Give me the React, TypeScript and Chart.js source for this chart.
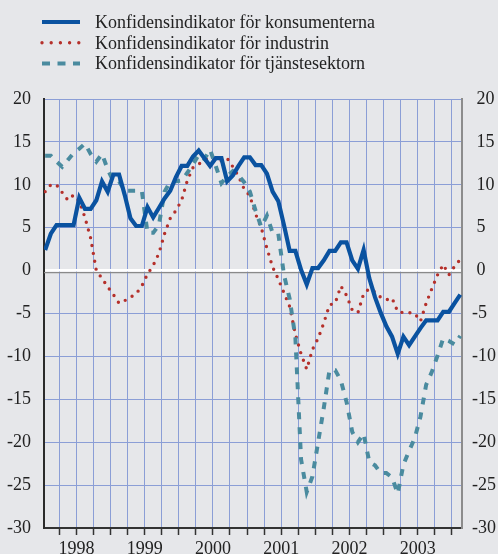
import React, { useEffect, useRef } from 'react';
import { Chart, registerables } from 'chart.js';

Chart.register(...registerables);

// ---- Data (monthly, Jan 1998 – Feb 2004) ----
const startYear = 1998;
const yearLabels = ['1998', '1999', '2000', '2001', '2002', '2003'];
const seriesNames = [
  'Konfidensindikator för konsumenterna',
  'Konfidensindikator för industrin',
  'Konfidensindikator för tjänstesektorn',
];

const konsumenter = [
  2.4, 4.3, 5.3, 5.3, 5.3, 5.3, 8.5, 7.2, 7.2, 8.2, 10.4, 9.2,
  11.2, 11.2, 8.8, 6.1, 5.2, 5.2, 7.4, 6.2, 7.3, 8.4, 9.3, 10.9,
  12.2, 12.2, 13.3, 14.0, 13.1, 12.2, 13.1, 13.1, 10.4, 11.1, 12.2, 13.2,
  13.2, 12.3, 12.3, 11.3, 9.2, 8.1, 5.3, 2.3, 2.3, 0.1, -1.6, 0.3,
  0.3, 1.2, 2.3, 2.3, 3.3, 3.3, 1.2, 0.2, 2.4, -0.9, -3.1, -4.9,
  -6.5, -7.7, -9.7, -7.7, -8.7, -7.7, -6.7, -5.8, -5.8, -5.8, -4.8, -4.8,
  -3.8, -2.8,
];

const industri = [
  9.2, 10.0, 10.0, 9.1, 8.2, 8.8, 8.1, 6.2, 3.8, 0.0, -0.9, -1.9,
  -2.8, -3.8, -3.5, -3.1, -2.7, -1.8, -0.4, 0.6, 2.0, 4.3, 6.1, 7.0,
  8.2, 10.5, 12.0, 12.4, 12.9, 13.1, 12.7, 12.8, 13.1, 12.1, 11.0, 9.5,
  8.7, 6.6, 5.0, 2.6, 0.4, -1.0, -2.6, -4.2, -7.4, -9.7, -11.5, -9.2,
  -7.9, -6.1, -4.0, -3.8, -1.8, -2.9, -4.6, -4.9, -2.7, -2.1, -2.5, -3.1,
  -3.4, -3.2, -4.8, -4.9, -4.9, -5.0, -5.9, -3.8, -2.1, -0.5, 0.7, -0.5,
  0.5, 1.3,
];

const tjanster = [
  13.4, 13.4, 12.7, 12.1, 12.9, 13.7, 14.2, 14.8, 13.6, 12.7, 13.6, 11.8,
  10.4, 10.4, 9.3, 9.3, 9.3, 9.3, 4.4, 4.4, 5.3, 9.2, 10.4, 10.4,
  10.5, 11.4, 12.4, 13.5, 13.0, 14.1, 12.2, 10.2, 11.0, 11.6, 11.1, 10.3,
  9.2, 7.0, 5.1, 6.4, 4.4, 4.3, -0.5, -3.3, -7.8, -22.0, -25.8, -24.0,
  -20.0, -16.0, -11.6, -11.6, -12.8, -15.3, -18.8, -20.0, -19.0, -22.3, -22.7, -23.6,
  -23.6, -24.1, -26.0, -22.6, -21.0, -19.5, -17.0, -13.3, -11.8, -9.9, -7.9, -8.2,
  -8.6, -7.6,
];

const yMin = -30;
const yMax = 20;
const yStep = 5;

// month positions (mid-month), quarter grid positions
const toPoints = (vals: number[]) => vals.map((v, i) => ({ x: i + 0.5, y: v }));
const quarterTicks: number[] = [];
for (let q = 3; q <= 72; q += 3) quarterTicks.push(q);

const FONT = '"Liberation Serif", "Times New Roman", Times, serif';
const BG = '#e6e7ea';
const GRID = '#8b9ed6';
const TEXT = '#222222';

const legendPlugin = {
  id: 'customLegend',
  afterDraw(chart: any) {
    const ctx = chart.ctx;
    ctx.save();
    chart.data.datasets.forEach((ds: any, i: number) => {
      const y = 22 + i * 20.8;
      ctx.beginPath();
      ctx.strokeStyle = ds.borderColor;
      ctx.lineWidth = ds.borderWidth;
      ctx.lineCap = ds.borderCapStyle || 'butt';
      ctx.setLineDash(ds.legendDash || ds.borderDash || []);
      ctx.moveTo(42, y);
      ctx.lineTo(80, y);
      ctx.stroke();
      ctx.setLineDash([]);
      ctx.fillStyle = TEXT;
      ctx.font = `18px ${FONT}`;
      ctx.textAlign = 'left';
      ctx.textBaseline = 'middle';
      ctx.fillText(ds.label, 95, y + 1);
    });
    ctx.restore();
  },
};

const zeroShadowPlugin = {
  id: 'zeroShadow',
  beforeDatasetsDraw(chart: any) {
    const s = chart.scales.y;
    const area = chart.chartArea;
    const y0 = s.getPixelForValue(0);
    const ctx = chart.ctx;
    ctx.save();
    ctx.strokeStyle = '#8a8a8a';
    ctx.lineWidth = 1.2;
    ctx.beginPath();
    ctx.moveTo(area.left, y0 + 2);
    ctx.lineTo(area.right, y0 + 2);
    ctx.stroke();
    ctx.restore();
  },
};

export default function App() {
  const ref = useRef<HTMLCanvasElement | null>(null);

  useEffect(() => {
    if (!ref.current) return;
    const chart = new Chart(ref.current, {
      type: 'line',
      data: {
        datasets: [
          {
            label: seriesNames[0],
            data: toPoints(konsumenter),
            borderColor: '#0a52a0',
            borderWidth: 4.2,
            pointRadius: 0,
            tension: 0,
            order: 0,
          } as any,
          {
            label: seriesNames[1],
            data: toPoints(industri),
            borderColor: '#b5302b',
            borderWidth: 3.4,
            borderDash: [0, 8],
            legendDash: [0, 9.2],
            borderCapStyle: 'round',
            pointRadius: 0,
            tension: 0,
            order: 2,
          } as any,
          {
            label: seriesNames[2],
            data: toPoints(tjanster),
            borderColor: '#4a8b9f',
            borderWidth: 4,
            borderDash: [7, 8],
            legendDash: [8, 7.5],
            pointRadius: 0,
            tension: 0,
            order: 1,
          } as any,
        ],
      },
      options: {
        animation: false,
        responsive: false,
        devicePixelRatio: 1,
        layout: { padding: { top: 99, left: 0, right: 0, bottom: 0 } },
        plugins: {
          legend: { display: false },
          tooltip: { enabled: false },
        },
        scales: {
          x: {
            type: 'linear',
            min: 0.3,
            max: 73.8,
            afterBuildTicks: (s: any) => {
              s.ticks = quarterTicks.map((v) => ({ value: v }));
            },
            afterFit: (s: any) => {
              s.height = 26;
            },
            grid: {
              color: GRID,
              lineWidth: 1,
              drawTicks: true,
              tickLength: 7,
              tickColor: '#333333',
              tickWidth: 1.5,
            },
            border: { color: '#333333', width: 2 },
            ticks: {
              autoSkip: false,
              maxRotation: 0,
              padding: 3,
              color: TEXT,
              font: { family: FONT, size: 18 },
              callback: (value: any) => {
                const v = Number(value);
                if ((v - 6) % 12 === 0) return yearLabels[(v - 6) / 12] ?? '';
                return '';
              },
            },
          },
          y: {
            position: 'left',
            min: yMin,
            max: yMax,
            afterFit: (s: any) => {
              s.width = 44;
            },
            grid: {
              color: (c: any) => (c.tick && c.tick.value === 0 ? '#ffffff' : GRID),
              lineWidth: (c: any) => (c.tick && c.tick.value === 0 ? 2.5 : 1),
              drawTicks: false,
            },
            border: { color: '#2b2b2b', width: 2 },
            ticks: {
              stepSize: yStep,
              padding: 13,
              color: TEXT,
              font: { family: FONT, size: 18 },
            },
          },
          y2: {
            position: 'right',
            min: yMin,
            max: yMax,
            afterFit: (s: any) => {
              s.width = 36;
            },
            grid: { drawOnChartArea: false, drawTicks: false },
            border: { color: '#8c8c8c', width: 2 },
            ticks: {
              stepSize: yStep,
              padding: 10,
              color: TEXT,
              font: { family: FONT, size: 18 },
              callback: (value: any) => (Number(value) >= 0 ? ' ' + value : String(value)),
            },
          },
        },
      } as any,
      plugins: [legendPlugin, zeroShadowPlugin],
    });
    return () => chart.destroy();
  }, []);

  return (
    <div
      style={{
        position: 'absolute',
        left: 0,
        top: 0,
        width: 498,
        height: 554,
        background: BG,
        overflow: 'hidden',
      }}
    >
      <canvas ref={ref} width={498} height={554} style={{ display: 'block' }} />
    </div>
  );
}
